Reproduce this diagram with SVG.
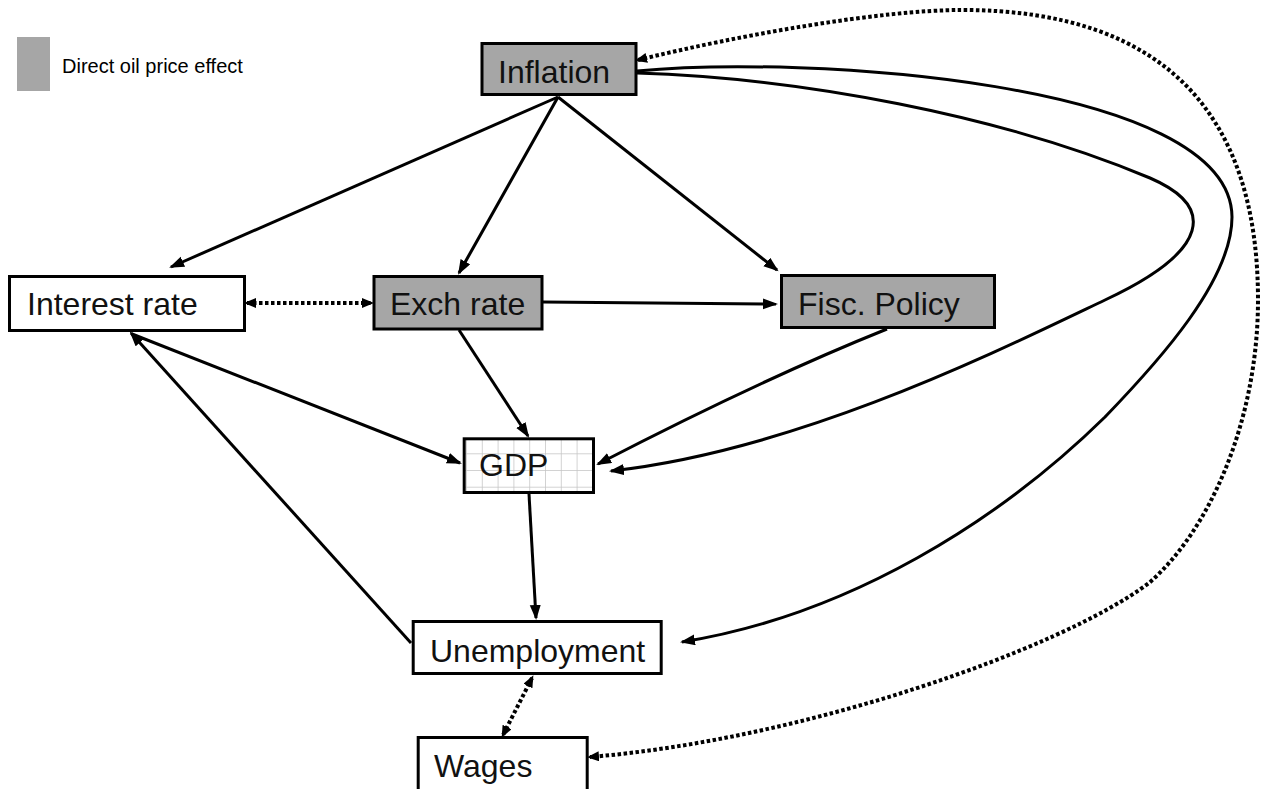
<svg xmlns="http://www.w3.org/2000/svg" width="1266" height="789" viewBox="0 0 1266 789">
<style>
.box{stroke:#000;stroke-width:3}
.oil{fill:#a6a6a6}
.plain{fill:#fff}
.lbl{font-family:"Liberation Sans",Arial,Helvetica,sans-serif;font-size:32px;fill:#111}
.leg{font-family:"Liberation Sans",Arial,Helvetica,sans-serif;font-size:20px;fill:#000}
.c{fill:none;stroke:#000;stroke-width:3}
.d{fill:none;stroke:#000;stroke-width:4;stroke-dasharray:3.5 2.5}
</style>
<defs>
<marker id="ah" markerUnits="userSpaceOnUse" markerWidth="18" markerHeight="13" refX="13" refY="5.5" orient="auto">
<path d="M0,0 L15,5.5 L0,11 z" fill="#000"/>
</marker>
<marker id="dh" markerUnits="userSpaceOnUse" markerWidth="14" markerHeight="12" refX="9" refY="5" orient="auto-start-reverse">
<path d="M0,0 L12,5 L0,10 z" fill="#000"/>
</marker>
<pattern id="grid" patternUnits="userSpaceOnUse" x="466" y="453.3" width="15.8" height="16.7">
<rect width="15.8" height="16.7" fill="#fff"/>
<path d="M0,0 V16.7 M0,0 H15.8" stroke="#c4c4c4" stroke-width="1.5" fill="none"/>
</pattern>
</defs>
<rect width="1266" height="789" fill="#fff"/>

<g id="legend">
<rect x="17" y="37" width="33" height="54" class="oil"/>
<text x="62" y="73" class="leg">Direct oil price effect</text>
</g>

<g id="connectors">
<path class="c" d="M558,97 L171,267" marker-end="url(#ah)"/>
<path class="c" d="M558,97 L459,273" marker-end="url(#ah)"/>
<path class="c" d="M558,97 L777,270" marker-end="url(#ah)"/>
<path class="c" d="M543,302 L776,304" marker-end="url(#ah)"/>
<path class="c" d="M459,330 L528,436" marker-end="url(#ah)"/>
<path class="c" d="M887,329 Q760,380 598,464" marker-end="url(#ah)"/>
<path class="c" d="M132,334 L460,463" marker-end="url(#ah)"/>
<path class="c" d="M529,494 L536,618" marker-end="url(#ah)"/>
<path class="c" d="M411,643 L131,333" marker-end="url(#ah)"/>
<path class="c" d="M637,73 C800,78 1000,115 1150,178 C1215,206 1212,250 1105,300 C1000,350 800,450 611,471" marker-end="url(#ah)"/>
<path class="c" d="M637,71 C800,55 1231,80 1232,217 C1232,280 1160,360 1105,417 C1000,520 850,615 682,642" marker-end="url(#ah)"/>
<path class="d" d="M247,303 L371,303" marker-start="url(#dh)" marker-end="url(#dh)"/>
<path class="d" d="M532,678 L503,735" marker-start="url(#dh)" marker-end="url(#dh)"/>
<path class="d" d="M638,60 C740,35 880,10 962,10 C1170,10 1258,120 1258,300 C1258,420 1210,530 1149,583 C1060,650 800,740 590,757" marker-start="url(#dh)" marker-end="url(#dh)"/>
</g>

<g id="inflation">
<rect x="482" y="43.5" width="154" height="51" class="box oil"/>
<text x="498" y="83" class="lbl">Inflation</text>
</g>
<g id="interest-rate">
<rect x="9.5" y="276.5" width="235" height="54" class="box plain"/>
<text x="27" y="315" class="lbl">Interest rate</text>
</g>
<g id="exch-rate">
<rect x="374" y="276.5" width="168" height="52.5" class="box oil"/>
<text x="390" y="315" class="lbl">Exch rate</text>
</g>
<g id="fisc-policy">
<rect x="781.5" y="275.5" width="213" height="52" class="box oil"/>
<text x="798" y="315" class="lbl">Fisc. Policy</text>
</g>
<g id="gdp">
<rect x="464.2" y="438.8" width="129.3" height="53.7" class="box" fill="url(#grid)"/>
<text x="479" y="476" class="lbl">GDP</text>
</g>
<g id="unemployment">
<rect x="413.2" y="621.5" width="248" height="52" class="box plain"/>
<text x="430" y="662" class="lbl">Unemployment</text>
</g>
<g id="wages">
<rect x="418.2" y="737.5" width="169" height="60" class="box plain"/>
<text x="434" y="777" class="lbl">Wages</text>
</g>
</svg>
